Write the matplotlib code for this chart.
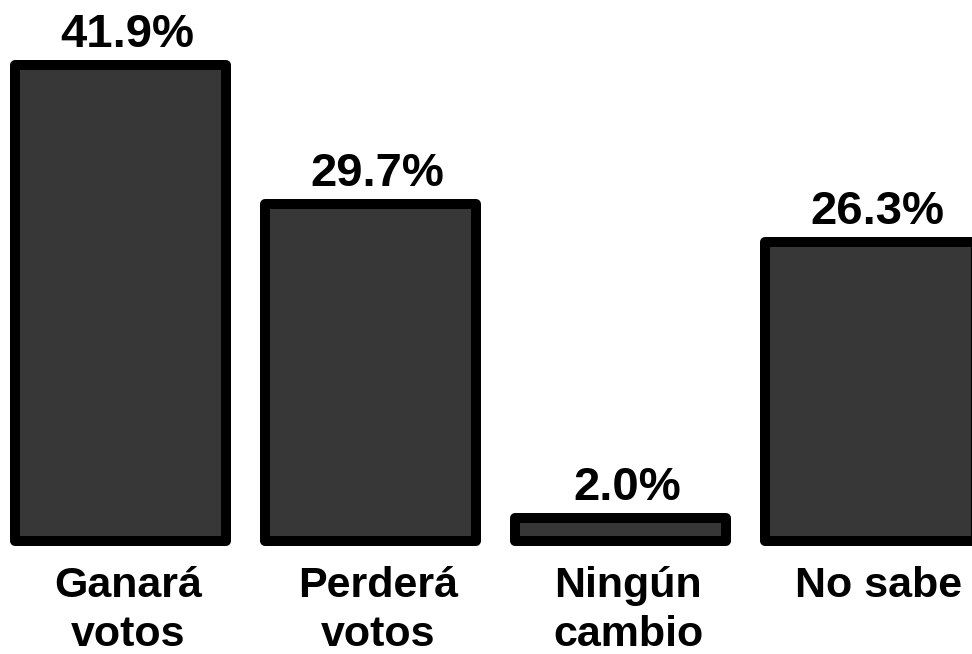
import matplotlib
matplotlib.use('Agg')
import matplotlib.pyplot as plt

plt.rcParams['font.family'] = ['Liberation Sans', 'DejaVu Sans']

categories = ['Ganará\nvotos', 'Perderá\nvotos', 'Ningún\ncambio', 'No sabe']
values = [41.9, 29.7, 2.0, 26.3]
labels = ['41.9%', '29.7%', '2.0%', '26.3%']

fig = plt.figure(figsize=(9.72, 6.54), dpi=100)
ax = fig.add_axes([0, 0, 1, 1])

x = list(range(len(values)))
bars = ax.bar(x, values, width=0.844, color='#373737', edgecolor='black', linewidth=7.2)
for b in bars:
    b.set_joinstyle('round')

# value labels above the bars
for xi, v, lab in zip(x, values, labels):
    ax.annotate(lab, xy=(xi, v), xytext=(5.5, 13), textcoords='offset points',
                ha='center', va='baseline', fontsize=34, fontweight='bold')

# category names under the bars
for xi, cat in zip(x, categories):
    ax.annotate(cat, xy=(xi, 0), xytext=(6, -18), textcoords='offset points',
                ha='center', va='top', fontsize=31, fontweight='bold', linespacing=1.3)

ax.set_xlim(-0.48, 3.408)
ax.set_ylim(-9.95, 47.62)
ax.axis('off')

fig.savefig('out.png', dpi=100)
